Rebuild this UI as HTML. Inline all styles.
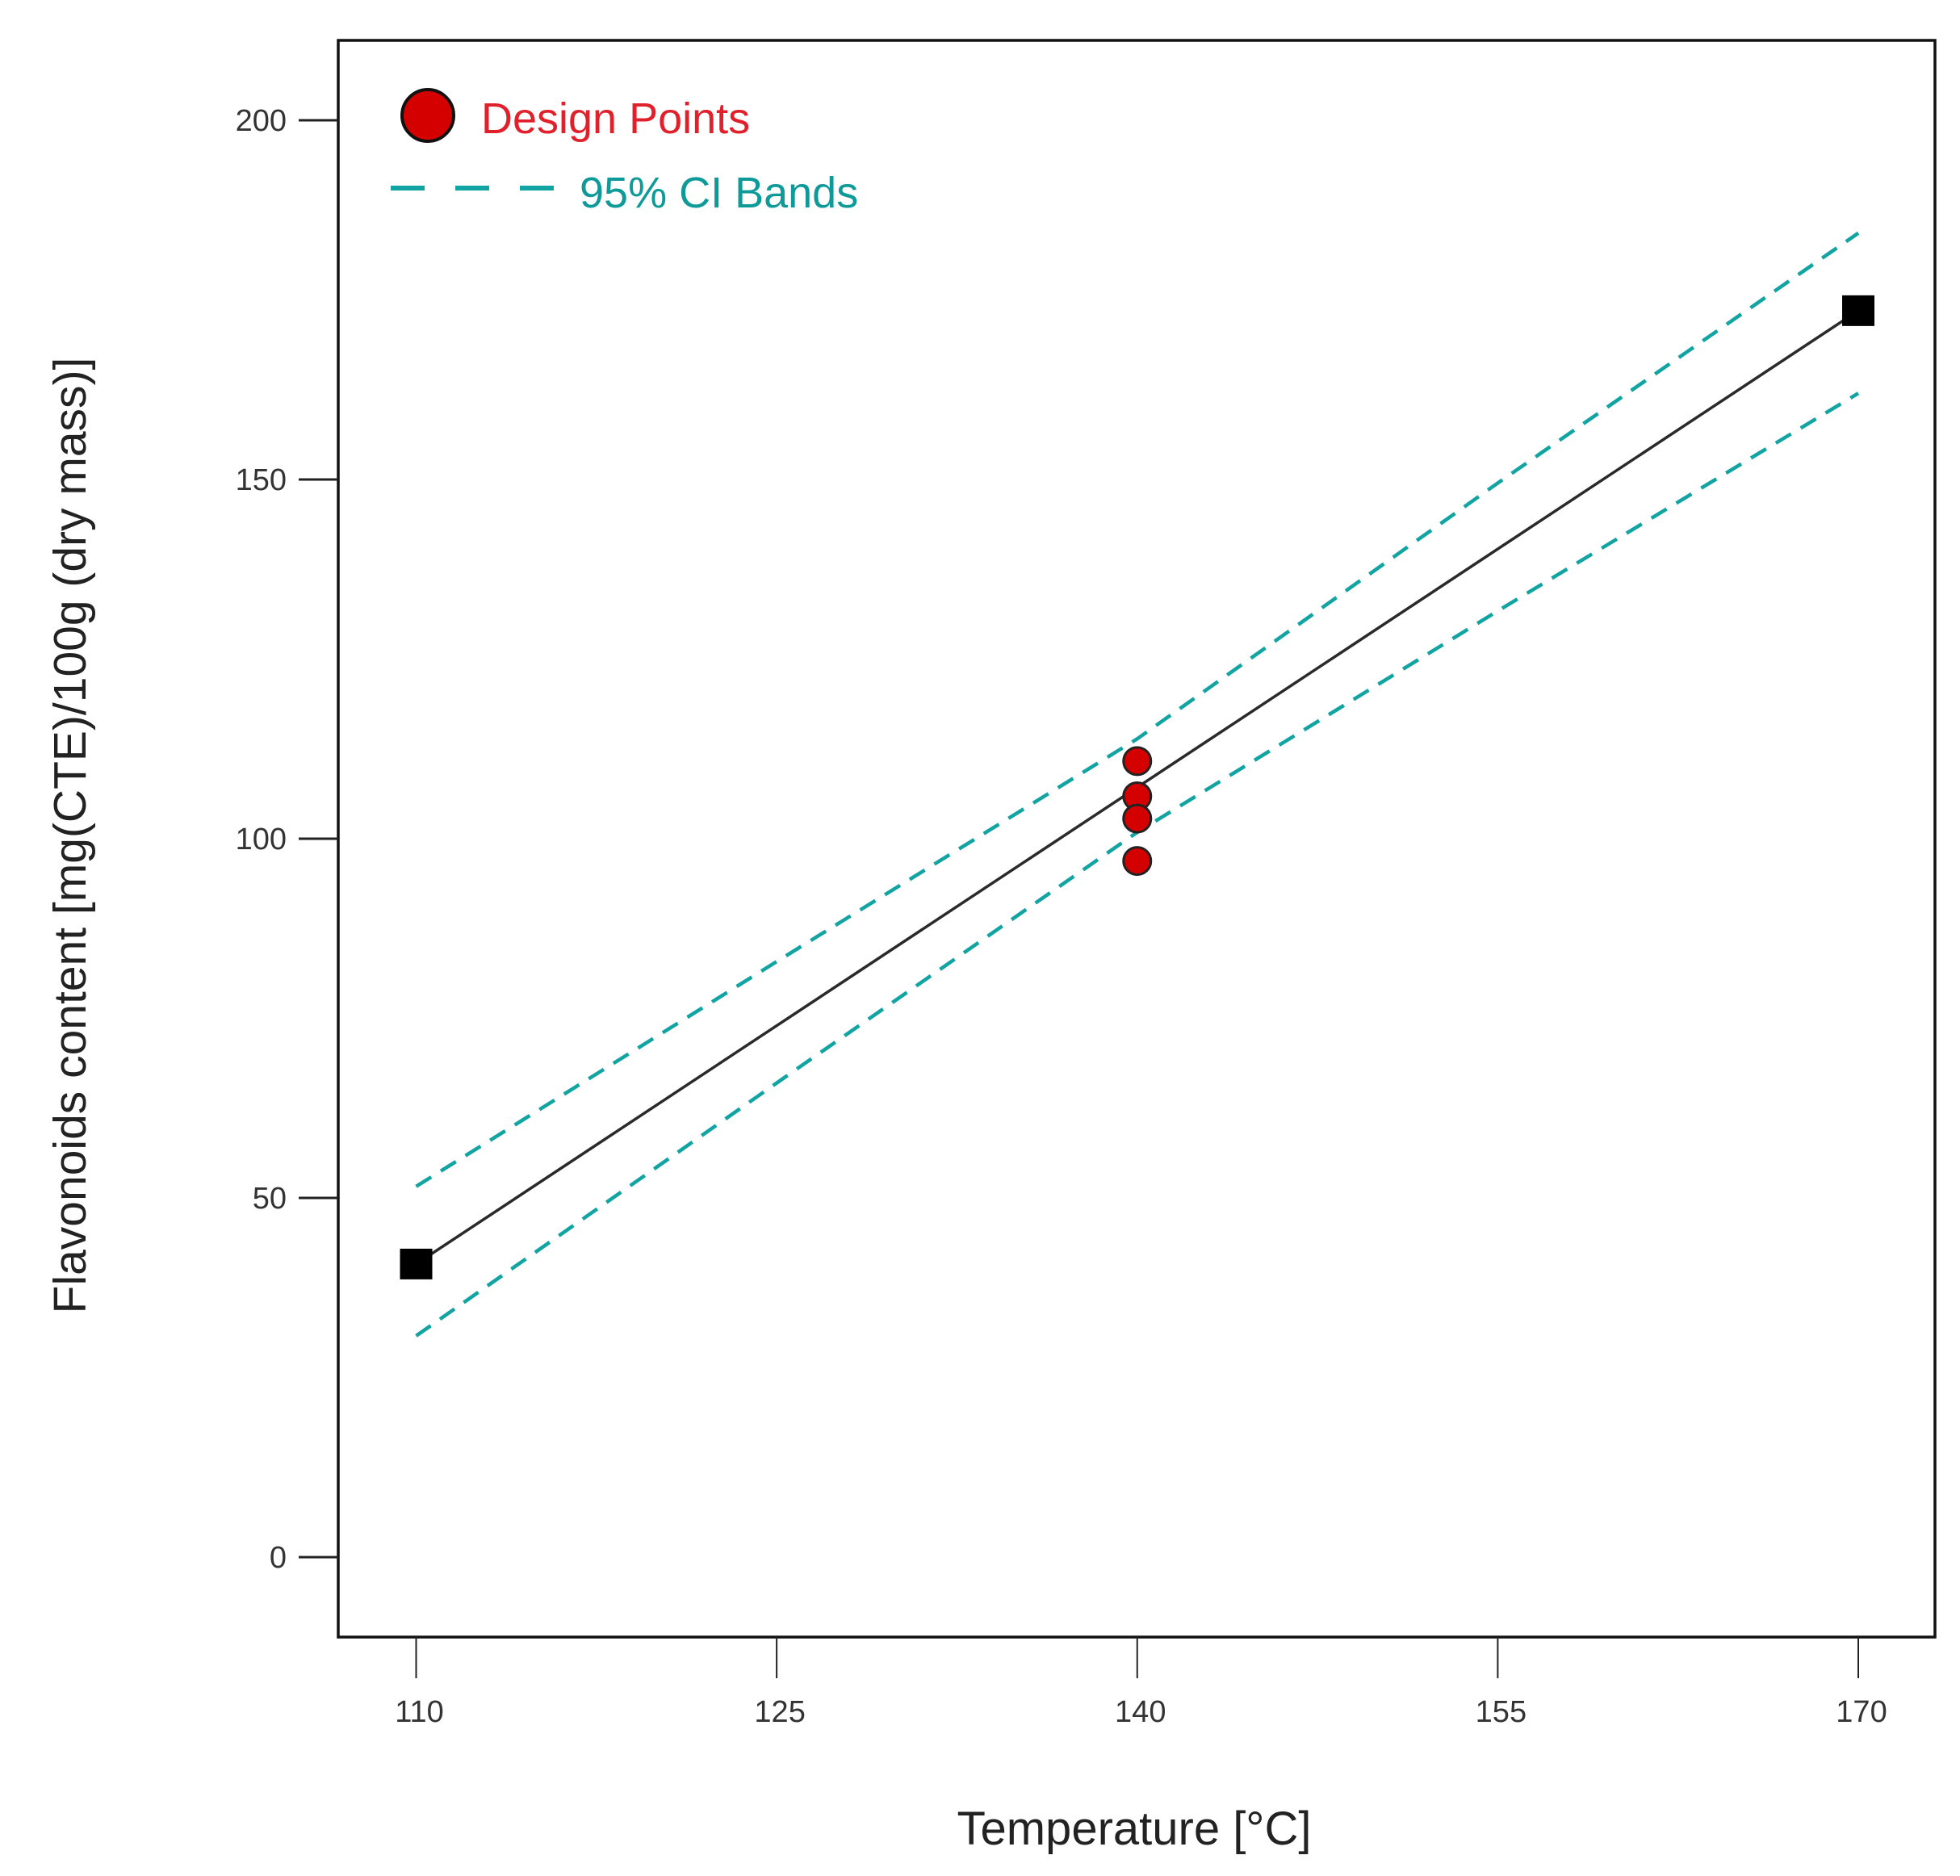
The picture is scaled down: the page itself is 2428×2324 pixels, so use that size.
<!DOCTYPE html>
<html><head><meta charset="utf-8"><style>
html,body{margin:0;padding:0;background:#fff;}
svg{display:block;font-family:"Liberation Sans",sans-serif;}
</style></head><body>
<svg id="chart" width="2428" height="2324" viewBox="0 0 2428 2324">
<rect x="0" y="0" width="2428" height="2324" fill="#fff"/>
<rect x="419" y="50" width="1978" height="1978" fill="none" stroke="#111" stroke-width="3.5"/>
<g id="axes"></g>
<g id="marks"></g>
<text transform="translate(106,1035) rotate(-90)" text-anchor="middle" font-size="57" fill="#222">Flavonoids content [mg(CTE)/100g (dry mass)]</text>
<text x="1405" y="2285" text-anchor="middle" font-size="58" fill="#222">Temperature [°C]</text>
<g>
<circle cx="530" cy="143" r="32" fill="#d40000" stroke="#111" stroke-width="4"/>
<text x="596" y="165" font-size="54" fill="#e0202a">Design Points</text>
<line x1="484" y1="233" x2="716" y2="233" stroke="#12a3a3" stroke-width="6" stroke-dasharray="42,38"/>
<text x="718" y="257" font-size="54" fill="#0f9a9a">95% CI Bands</text>
</g>
</svg>
<script>
const xTicks = [110, 125, 140, 155, 170];
const yTicks = [0, 50, 100, 150, 200];
const fitX = [110, 170];
const fitY = [40.8, 173.5];
const bandX = [110, 125, 140, 155, 170];
const upperCI = [51.6, 82.9, 113.9, 149.5, 184.3];
const lowerCI = [30.8, 66.0, 100.9, 131.7, 162.0];
const designX = [140, 140, 140, 140];
const designY = [110.8, 105.9, 102.8, 96.9];
const factorX = [110, 170];
const factorY = [40.8, 173.5];

const NS = "http://www.w3.org/2000/svg";
function sx(v){ return 515.5 + (v - 110) * (2302 - 515.5) / 60; }
function sy(v){ return 1929 - v * (1929 - 149) / 200; }
function mk(tag, attrs, parent){
  const e = document.createElementNS(NS, tag);
  for (const k in attrs) e.setAttribute(k, attrs[k]);
  parent.appendChild(e);
  return e;
}
const axes = document.getElementById('axes');
const marks = document.getElementById('marks');

xTicks.forEach(t => {
  const l = mk('line', {x1: sx(t), x2: sx(t), y1: 2028, y2: 2079, stroke: '#222', 'stroke-width': 2}, axes);
  
  
  const tx = mk('text', {x: sx(t) + 4, y: 2133, 'text-anchor': 'middle', 'font-size': 38, fill: '#333'}, axes);
  tx.textContent = t;
  
  
});
yTicks.forEach(t => {
  const l = mk('line', {x1: 370, x2: 419, y1: sy(t), y2: sy(t), stroke: '#222', 'stroke-width': 3}, axes);
  
  
  const tx = mk('text', {x: 355, y: sy(t) + 13, 'text-anchor': 'end', 'font-size': 38, fill: '#333'}, axes);
  tx.textContent = t;
  
  
});

function poly(xs, ys){ return xs.map((x, i) => sx(x) + ',' + sy(ys[i])).join(' '); }

const up = mk('polyline', {points: poly(bandX, upperCI), fill: 'none', stroke: '#12a3a3', 'stroke-width': 4.5, 'stroke-dasharray': '22,14'}, marks);


const lo = mk('polyline', {points: poly(bandX, lowerCI), fill: 'none', stroke: '#12a3a3', 'stroke-width': 4.5, 'stroke-dasharray': '22,14'}, marks);


const fit = mk('polyline', {points: poly(fitX, fitY), fill: 'none', stroke: '#2a2a2a', 'stroke-width': 3.5}, marks);



factorX.forEach((x, i) => {
  const r = mk('rect', {x: sx(x) - 20, y: sy(factorY[i]) - 19, width: 40, height: 38, fill: '#000'}, marks);
  
  
});
designX.forEach((x, i) => {
  const c = mk('circle', {cx: sx(x), cy: sy(designY[i]), r: 17, fill: '#d40000', stroke: '#222', 'stroke-width': 3}, marks);
  
  
});
</script>
</body></html>
